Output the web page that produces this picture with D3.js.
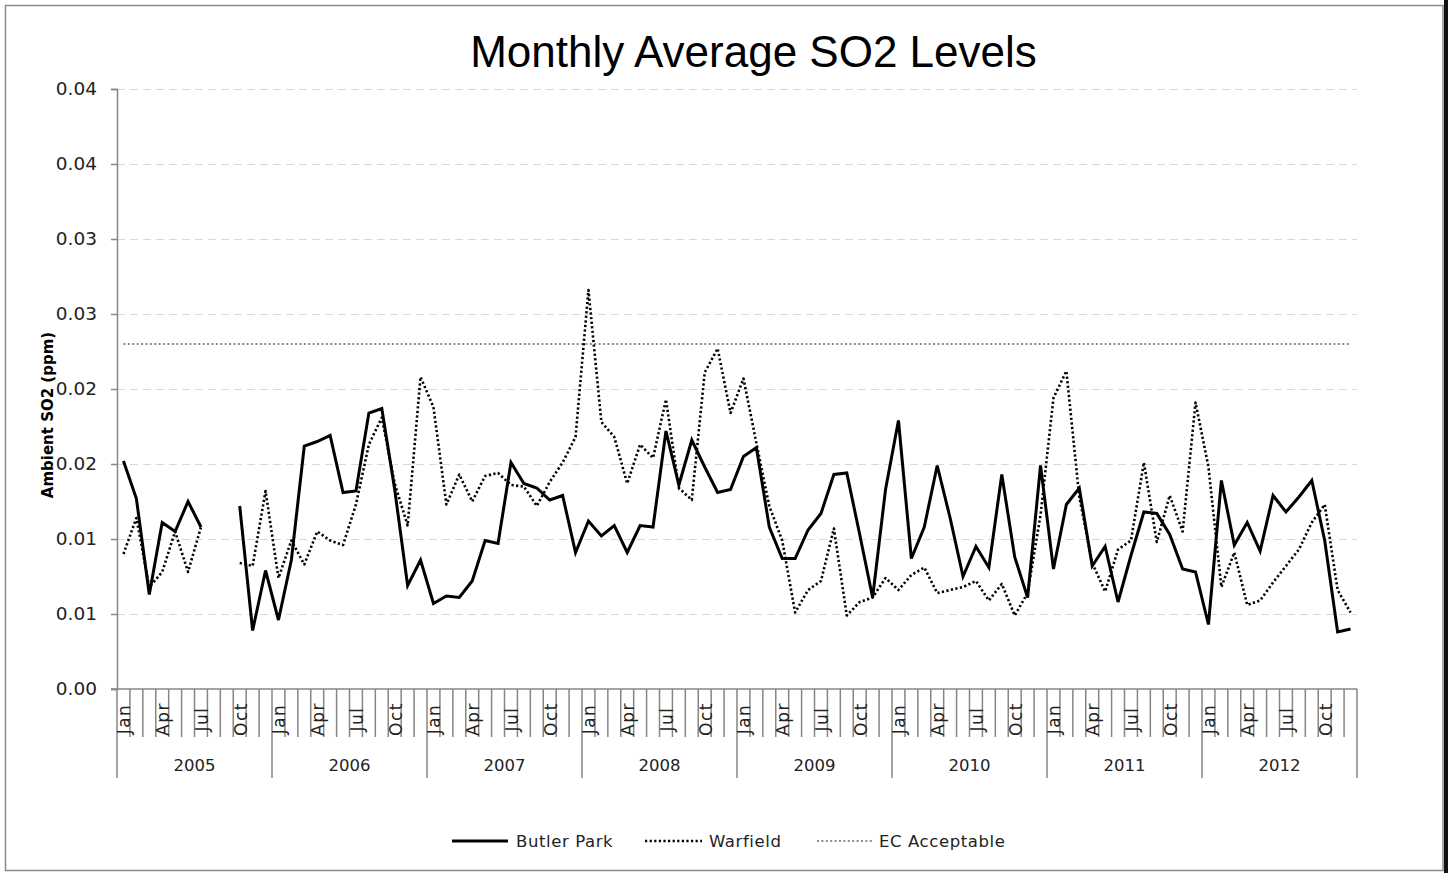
<!DOCTYPE html>
<html>
<head>
<meta charset="utf-8">
<script src="https://cdn.jsdelivr.net/npm/d3@7"></script>
<style>
  html, body { margin: 0; padding: 0; background: #fff; }
  svg { display: block; }
</style>
</head>
<body>
<svg id="chart" width="1448" height="873"></svg>
<script>
// ---------------- DATA ----------------
const years = ["2005","2006","2007","2008","2009","2010","2011","2012"];
const monthNames = ["Jan","Feb","Mar","Apr","May","Jun","Jul","Aug","Sep","Oct","Nov","Dec"];
const shownMonths = ["Jan","Apr","Jul","Oct"];

// Butler Park monthly averages (ppm), Jan 2005 .. Dec 2012 (null = no data)
const butlerPark = [
  0.0152, 0.0127, 0.0063, 0.0111, 0.0105, 0.0125, 0.0108, null,   null,   0.0122, 0.0039, 0.0079,
  0.0046, 0.0086, 0.0162, 0.0165, 0.0169, 0.0131, 0.0132, 0.0184, 0.0187, 0.0133, 0.0069, 0.0086,
  0.0057, 0.0062, 0.0061, 0.0072, 0.0099, 0.0097, 0.0151, 0.0137, 0.0134, 0.0126, 0.0129, 0.0091,
  0.0112, 0.0102, 0.0109, 0.0091, 0.0109, 0.0108, 0.0172, 0.0136, 0.0166, 0.0148, 0.0131, 0.0133,
  0.0155, 0.0161, 0.0108, 0.0087, 0.0087, 0.0106, 0.0117, 0.0143, 0.0144, 0.0103, 0.0061, 0.0133,
  0.0179, 0.0087, 0.0108, 0.0149, 0.0114, 0.0075, 0.0095, 0.0081, 0.0143, 0.0088, 0.0061, 0.0149,
  0.0080, 0.0123, 0.0134, 0.0082, 0.0095, 0.0058, 0.0089, 0.0118, 0.0117, 0.0103, 0.0080, 0.0078,
  0.0043, 0.0139, 0.0096, 0.0111, 0.0092, 0.0129, 0.0118, 0.0128, 0.0139, 0.0099, 0.0038, 0.0040
];

// Warfield monthly averages (ppm), Jan 2005 .. Dec 2012 (null = no data)
const warfield = [
  0.0090, 0.0114, 0.0068, 0.0078, 0.0105, 0.0078, 0.0108, null,   null,   0.0084, 0.0082, 0.0132,
  0.0074, 0.0099, 0.0083, 0.0105, 0.0099, 0.0096, 0.0123, 0.0163, 0.0181, 0.0137, 0.0109, 0.0208,
  0.0188, 0.0123, 0.0143, 0.0125, 0.0142, 0.0144, 0.0136, 0.0135, 0.0122, 0.0138, 0.0151, 0.0168,
  0.0266, 0.0178, 0.0168, 0.0137, 0.0163, 0.0154, 0.0193, 0.0134, 0.0126, 0.0211, 0.0227, 0.0184,
  0.0207, 0.0164, 0.0122, 0.0099, 0.0051, 0.0066, 0.0072, 0.0107, 0.0049, 0.0058, 0.0061, 0.0074,
  0.0066, 0.0076, 0.0081, 0.0064, 0.0066, 0.0068, 0.0072, 0.0059, 0.0070, 0.0049, 0.0064, 0.0116,
  0.0194, 0.0212, 0.0128, 0.0084, 0.0065, 0.0093, 0.0099, 0.0151, 0.0098, 0.0129, 0.0105, 0.0191,
  0.0148, 0.0068, 0.0091, 0.0056, 0.0059, 0.0071, 0.0082, 0.0093, 0.0111, 0.0123, 0.0066, 0.0051
];

// EC acceptable level (ppm)
const ecAcceptable = 0.023;

// y axis ticks and their printed labels (two decimals, as in the original)
const yTickValues = [0, 0.005, 0.01, 0.015, 0.02, 0.025, 0.03, 0.035, 0.04];
const yTickLabels = ["0.00","0.01","0.01","0.02","0.02","0.03","0.03","0.04","0.04"];

const seriesNames = ["Butler Park", "Warfield", "EC Acceptable"];

// ---------------- LAYOUT ----------------
const W = 1448, H = 873;
const plot = { left: 117, right: 1357, top: 89, bottom: 689 };
const svg = d3.select("#chart");

const months = [];
years.forEach(y => monthNames.forEach(m => months.push(y + "-" + m)));

const x = d3.scaleBand().domain(months).range([plot.left, plot.right]).padding(0);
const y = d3.scaleLinear().domain([0, 0.04]).range([plot.bottom, plot.top]);
const xc = k => x(k) + x.bandwidth() / 2;

// frame
svg.append("rect").attr("x", 0).attr("y", 0).attr("width", W).attr("height", H).attr("fill", "#fff");
svg.append("rect").attr("x", 5.5).attr("y", 5.5).attr("width", 1437.5).attr("height", 865)
  .attr("fill", "none").attr("stroke", "#8a8a8a").attr("stroke-width", 1.5);
svg.append("rect").attr("x", 1444).attr("y", 0).attr("width", 4).attr("height", H).attr("fill", "#111");

// title
svg.append("text")
  .attr("x", 753.5).attr("y", 67)
  .attr("text-anchor", "middle")
  .attr("font-family", "'Liberation Sans', Arial, sans-serif")
  .attr("font-size", 44)
  .attr("fill", "#000")
  .text("Monthly Average SO2 Levels");

// gridlines
svg.append("g")
  .selectAll("line")
  .data(yTickValues.filter(d => d > 0))
  .join("line")
  .attr("x1", plot.left).attr("x2", plot.right)
  .attr("y1", d => Math.round(y(d)) + 0.5).attr("y2", d => Math.round(y(d)) + 0.5)
  .attr("stroke", "#d9d9d9").attr("stroke-width", 1.2)
  .attr("stroke-dasharray", "8,5");

// y axis
const yAxis = d3.axisLeft(y)
  .tickValues(yTickValues)
  .tickFormat((d, i) => yTickLabels[i])
  .tickSize(6)
  .tickPadding(14);
const gy = svg.append("g").attr("transform", `translate(${plot.left},0)`).call(yAxis);
gy.select(".domain").attr("stroke", "#868686").attr("stroke-width", 1.5);
gy.selectAll(".tick line").attr("stroke", "#868686").attr("stroke-width", 1.5);
gy.selectAll(".tick text")
  .attr("font-family", "'DejaVu Sans', sans-serif")
  .attr("font-size", 18.5)
  .attr("fill", "#222");

// y axis title
svg.append("text")
  .attr("transform", "translate(53,415) rotate(-90)")
  .attr("text-anchor", "middle")
  .attr("font-family", "'DejaVu Sans', sans-serif")
  .attr("font-weight", "bold")
  .attr("font-size", 15)
  .attr("fill", "#000")
  .text("Ambient SO2 (ppm)");

// x axis: baseline, month separators, year separators
const gx = svg.append("g");
gx.append("line")
  .attr("x1", plot.left - 6).attr("x2", plot.right)
  .attr("y1", plot.bottom).attr("y2", plot.bottom)
  .attr("stroke", "#868686").attr("stroke-width", 1.5);

const boundaries = months.map(m => x(m)).concat([plot.right]);
gx.selectAll("line.sep")
  .data(boundaries)
  .join("line")
  .attr("class", "sep")
  .attr("x1", d => d).attr("x2", d => d)
  .attr("y1", plot.bottom)
  .attr("y2", (d, i) => (i % 12 === 0) ? 778 : 737)
  .attr("stroke", "#868686").attr("stroke-width", 1.5);

gx.selectAll("text.month")
  .data(months.filter(m => shownMonths.includes(m.split("-")[1])))
  .join("text")
  .attr("class", "month")
  .attr("transform", d => `translate(${xc(d) + 1},719) rotate(-90)`)
  .attr("text-anchor", "middle")
  .attr("dominant-baseline", "central")
  .attr("font-family", "'DejaVu Sans', sans-serif")
  .attr("font-size", 17)
  .attr("letter-spacing", 1.5)
  .attr("fill", "#222")
  .text(d => d.split("-")[1]);

gx.selectAll("text.year")
  .data(years)
  .join("text")
  .attr("class", "year")
  .attr("x", d => (x(d + "-Jan") + x(d + "-Dec") + x.bandwidth()) / 2)
  .attr("y", 771)
  .attr("text-anchor", "middle")
  .attr("font-family", "'DejaVu Sans', sans-serif")
  .attr("font-size", 16.5)
  .attr("fill", "#222")
  .text(d => d);

// series
const line = d3.line()
  .defined(d => d.v !== null)
  .x(d => xc(d.m))
  .y(d => y(d.v));

const ecData = months.map(m => ({ m, v: ecAcceptable }));
svg.append("path")
  .datum(ecData)
  .attr("d", line)
  .attr("fill", "none")
  .attr("stroke", "#8c8c8c")
  .attr("stroke-width", 2)
  .attr("stroke-dasharray", "2,2.4");

svg.append("path")
  .datum(months.map((m, i) => ({ m, v: warfield[i] })))
  .attr("d", line)
  .attr("fill", "none")
  .attr("stroke", "#000")
  .attr("stroke-width", 2.6)
  .attr("stroke-dasharray", "2.2,2.4")
  .attr("stroke-linejoin", "round");

svg.append("path")
  .datum(months.map((m, i) => ({ m, v: butlerPark[i] })))
  .attr("d", line)
  .attr("fill", "none")
  .attr("stroke", "#000")
  .attr("stroke-width", 3)
  .attr("stroke-linejoin", "miter");

// legend
const legendItems = [
  { name: seriesNames[0], x1: 452, x2: 508, tx: 516, stroke: "#000", w: 3, dash: null },
  { name: seriesNames[1], x1: 645, x2: 702, tx: 709, stroke: "#000", w: 2.6, dash: "2.2,2.4" },
  { name: seriesNames[2], x1: 817, x2: 872, tx: 879, stroke: "#8c8c8c", w: 2, dash: "2,2.4" }
];
const lg = svg.append("g");
legendItems.forEach(it => {
  lg.append("line")
    .attr("x1", it.x1).attr("x2", it.x2).attr("y1", 841).attr("y2", 841)
    .attr("stroke", it.stroke).attr("stroke-width", it.w)
    .attr("stroke-dasharray", it.dash);
  lg.append("text")
    .attr("x", it.tx).attr("y", 847)
    .attr("font-family", "'DejaVu Sans', sans-serif")
    .attr("font-size", 16.5)
    .attr("letter-spacing", 0.6)
    .attr("fill", "#222")
    .text(it.name);
});
</script>
</body>
</html>
